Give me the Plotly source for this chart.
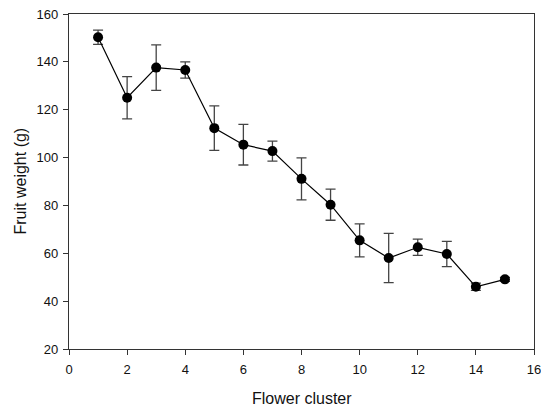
import plotly.graph_objects as go

clusters = [1, 2, 3, 4, 5, 6, 7, 8, 9, 10, 11, 12, 13, 14, 15]
fruit_weight = [150.3, 125.0, 137.6, 136.6, 112.3, 105.4, 102.7, 91.1, 80.3, 65.4, 58.0, 62.5, 59.7, 46.0, 49.1]
error = [3.0, 8.8, 9.5, 3.4, 9.3, 8.5, 4.2, 8.8, 6.5, 6.9, 10.3, 3.4, 5.3, 1.5, 0.8]

x_ticks = [0, 2, 4, 6, 8, 10, 12, 14, 16]
y_ticks = [20, 40, 60, 80, 100, 120, 140, 160]
x_title = "Flower cluster"
y_title = "Fruit weight (g)"

FONT = "Arial, Liberation Sans, sans-serif"

fig = go.Figure()
fig.add_trace(go.Scatter(
    x=clusters, y=fruit_weight,
    mode="lines+markers",
    line=dict(color="black", width=1.2),
    marker=dict(color="black", size=10),
    error_y=dict(type="data", array=error, visible=True, color="#444444", thickness=1.3, width=5),
    showlegend=False,
))

axis_common = dict(
    showline=True, linecolor="#333333", linewidth=1.3, mirror=True,
    ticks="outside", ticklen=5, tickwidth=1.3, tickcolor="#333333",
    showgrid=False, zeroline=False, automargin=False,
    ticklabeloverflow="allow",
    tickfont=dict(family=FONT, size=13, color="#111111"),
)

fig.update_xaxes(range=[0, 16], tickvals=x_ticks, ticklabelstandoff=3, **axis_common)
fig.update_yaxes(range=[20, 160], tickvals=y_ticks, ticklabelstandoff=2, **axis_common)

fig.add_annotation(text=x_title, xref="paper", yref="paper", x=0.5, y=0,
                   xanchor="center", yanchor="middle", yshift=-49, showarrow=False,
                   font=dict(family=FONT, size=16, color="#111111"))
fig.add_annotation(text=y_title, xref="paper", yref="paper", x=0, y=0.5,
                   xanchor="center", yanchor="middle", xshift=-49, textangle=-90, showarrow=False,
                   font=dict(family=FONT, size=16, color="#111111"))

fig.update_layout(
    width=541, height=407,
    margin=dict(l=68.5, r=7, t=14, b=58),
    paper_bgcolor="white", plot_bgcolor="white",
)

fig.write_html("out.html", config={"displayModeBar": False},
               post_script="document.body.style.margin='0';")
